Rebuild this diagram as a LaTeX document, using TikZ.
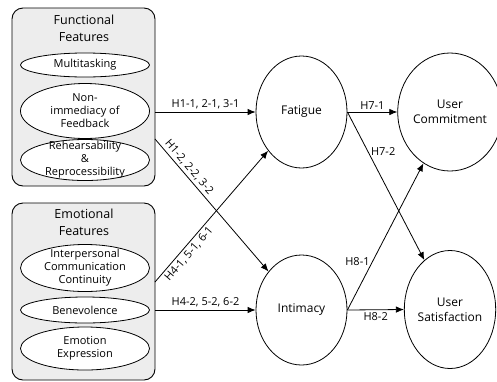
\documentclass[tikz,border=0pt]{standalone}
\usepackage{fontspec}
\setmainfont{Open Sans}
\usepackage{tikz}
\usetikzlibrary{arrows.meta,shapes}
\tikzstyle{groupbox}=[rectangle,rounded corners=11pt,fill=black!7,draw,line width=0.9pt,inner sep=0pt]
\tikzstyle{feature}=[ellipse,fill=white,draw,line width=0.8pt,inner sep=0pt,minimum width=129pt]
\tikzstyle{construct}=[ellipse,fill=white,draw,line width=0.8pt,inner sep=0pt,align=center]
\tikzstyle{txt}=[align=center,inner sep=0pt,font=\fontsize{11}{13}\selectfont]
\tikzstyle{edge} = [draw,line width=0.8pt,-{Latex[length=8pt,width=6.5pt]}]
\tikzstyle{weight} = [font=\fontsize{11}{12}\selectfont,inner sep=2.5pt]

\begin{document}
\begin{tikzpicture}[x=1pt,y=-1pt,font=\fontsize{12}{15}\selectfont]
    \useasboundingbox (0,0) rectangle (497,381);

    % feature groups
    \node[groupbox, minimum width=143, minimum height=178] (func) at (83.5,97) {};
    \node[groupbox, minimum width=143, minimum height=177] (emo) at (83.5,291.5) {};
    \node[txt, font=\fontsize{12.5}{16.5}\selectfont] (functitle) at (84,28.5) {Functional\\Features};
    \node[txt, font=\fontsize{12.5}{16.5}\selectfont] (emotitle) at (84,222.5) {Emotional\\Features};

    \foreach \y/\h/\name/\text in {65/24/multi/Multitasking,
                                  111/55/nonimm/{Non-\\immediacy of\\Feedback},
                                  160/41/rehear/{Rehearsability\\\&\\Reprocessibility},
                                  268/47/interp/{Interpersonal\\Communication\\Continuity},
                                  310/26/benev/Benevolence,
                                  348.5/43/emoexp/{Emotion\\Expression}}
        \node[feature, minimum height=\h, label={[txt]center:\text}] (\name) at (85,\y) {};

    % constructs
    \foreach \x/\y/\w/\h/\name/\text in {301.5/112/91/112/fat/Fatigue,
                                        301.5/310/91/110/int/Intimacy,
                                        450/112/86/118/com/{User\\Commitment},
                                        450/309.5/86/118/sat/{User\\Satisfaction}}
        \node[construct, minimum width=\w, minimum height=\h] (\name) at (\x,\y) {\text};

    \coordinate (f2) at (155,139);
    \coordinate (e1) at (155,282);

    \path[edge] (func.east |- fat) -- node[weight, above] {H1-1, 2-1, 3-1} (fat.west);
    \path[edge] (f2) -- node[weight, sloped, above, pos=0.25] {H1-2, 2-2, 3-2} (int);
    \path[edge] (e1) -- node[weight, sloped, below, pos=0.25] {H4-1, 5-1, 6-1} (fat);
    \path[edge] (emo.east |- int) -- node[weight, above] {H4-2, 5-2, 6-2} (int.west);

    \path[edge] (fat.east) -- node[weight, above] {H7-1} (com.west);
    \path[edge] (fat.east) -- node[weight, right, pos=0.27] {H7-2} (sat);
    \path[edge] (int.east) -- node[weight, left, pos=0.33] {H8-1} (com);
    \path[edge] (int.east) -- node[weight, below] {H8-2} (sat.west);

\end{tikzpicture}
\end{document}
